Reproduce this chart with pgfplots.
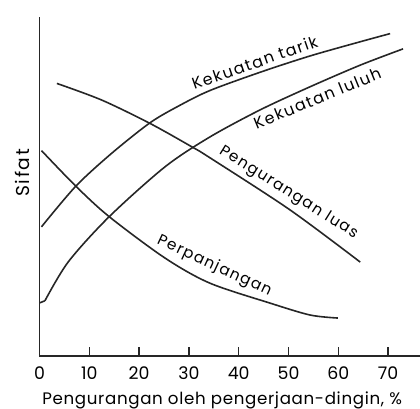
\documentclass[border=0pt]{standalone}
\usepackage{pgfplots}
\pgfplotsset{compat=1.18}
\usepackage{fontspec}
\setmainfont{Poppins}
\newfontfamily\lbl[LetterSpace=9]{Poppins}
\newfontfamily\xlbl[LetterSpace=4]{Poppins}

\begin{document}
\begin{tikzpicture}
\begin{axis}[
  scale only axis,
  width=285.4pt, height=254.25pt,
  xmin=0, xmax=76.4, ymin=0, ymax=100,
  axis lines*=left,
  axis line style={line width=1.1pt, black!85, -},
  xtick={0,10,...,70},
  ytick=\empty,
  xtick align=inside,
  major tick length=7pt,
  tick style={line width=1pt, black!85},
  xticklabel style={font=\fontsize{13}{15}\selectfont, yshift=-4.5pt},
  /pgf/number format/assume math mode=true,
  xlabel={Pengurangan oleh pengerjaan-dingin, \%},
  xlabel style={font=\xlbl\fontsize{12.5}{14}\selectfont, at={(axis description cs:0.48,0)}, anchor=north, yshift=-23pt},
  ylabel={Sifat},
  ylabel style={font=\lbl\fontsize{14}{16}\selectfont, at={(axis description cs:-0.046,0.54)}, anchor=center},
  clip=false,
]
% Kekuatan tarik
\addplot[black!85, line width=1.2pt, smooth] coordinates {
  (0.4,38.1) (7.3,50.1) (14.5,59.8) (22.2,68.8) (28.0,73.8) (34.2,78.3)
  (44.3,83.7) (54.3,88.5) (64.4,92.7) (70.4,95.1)};
% Kekuatan luluh
\addplot[black!85, line width=1.2pt] coordinates {(0.1,15.7) (1.1,16.3)};
\addplot[black!85, line width=1.2pt, smooth] coordinates {
  (1.1,16.3) (5.8,27.8) (14.0,41.1) (25.2,55.8) (34.2,64.6)
  (44.3,72.6) (54.3,79.4) (64.4,85.8) (73.0,90.6)};
% Perpanjangan
\addplot[black!85, line width=1.2pt, smooth] coordinates {
  (0.4,60.6) (7.3,50.1) (14.0,41.1) (25.2,28.9) (34.2,21.5)
  (46.3,15.6) (54.3,12.1) (59.9,11.2)};
% Pengurangan luas
\addplot[black!85, line width=1.2pt, smooth] coordinates {
  (3.5,80.4) (12.5,75.5) (22.2,68.6) (30.6,61.7) (34.2,58.5)
  (50.3,43.1) (64.4,27.7)};

\node[rotate=19.2, font=\lbl\fontsize{12}{14}\selectfont] at (axis cs:43.2,86.6) {Kekuatan tarik};
\node[rotate=22.2, font=\lbl\fontsize{12}{14}\selectfont] at (axis cs:55.8,76.0) {Kekuatan luluh};
\node[rotate=-32, font=\lbl\fontsize{11.5}{13}\selectfont] at (axis cs:50.0,48.1) {Pengurangan luas};
\node[rotate=-25, font=\lbl\fontsize{11.5}{13}\selectfont] at (axis cs:35.1,26.5) {Perpanjangan};
\end{axis}
\pgfresetboundingbox
\path[use as bounding box] (-29.6pt,-39pt) rectangle (285.4pt,267pt);
\end{tikzpicture}
\end{document}
